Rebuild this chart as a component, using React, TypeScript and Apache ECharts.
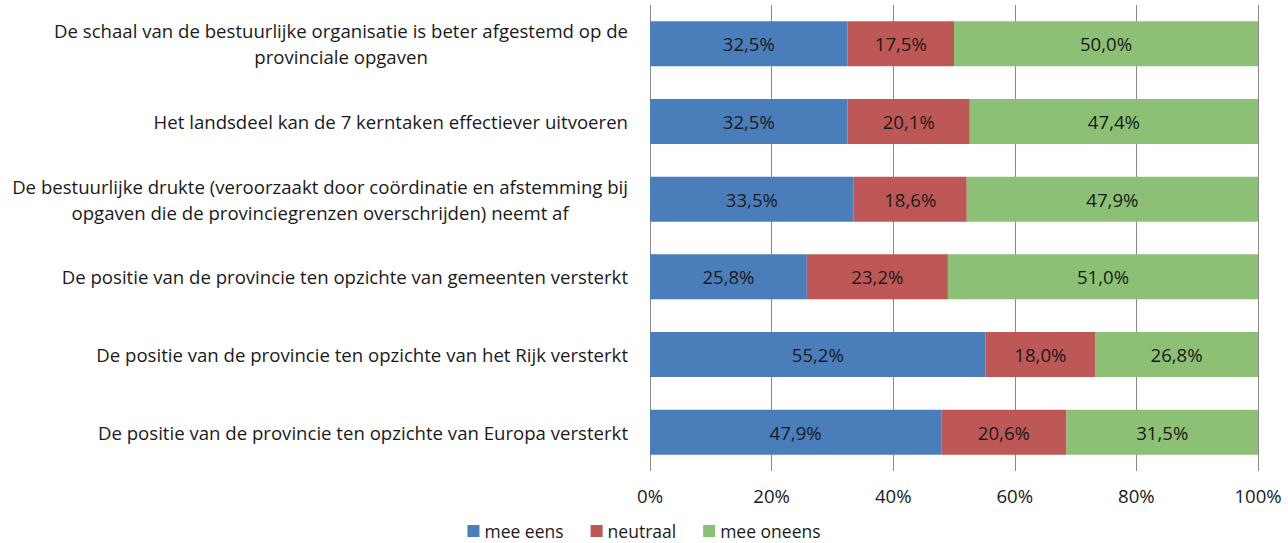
import React, { useEffect, useRef } from "react";
import * as echarts from "echarts";

const categories = [
  "De schaal van de bestuurlijke organisatie is beter afgestemd op de\nprovinciale opgaven",
  "Het landsdeel kan de 7 kerntaken effectiever uitvoeren",
  "De bestuurlijke drukte (veroorzaakt door coördinatie en afstemming bij\nopgaven die de provinciegrenzen overschrijden) neemt af",
  "De positie van de provincie ten opzichte van gemeenten versterkt",
  "De positie van de provincie ten opzichte van het Rijk versterkt",
  "De positie van de provincie ten opzichte van Europa versterkt",
];
const meeEens = [32.5, 32.5, 33.5, 25.8, 55.2, 47.9];
const neutraal = [17.5, 20.1, 18.6, 23.2, 18.0, 20.6];
const meeOneens = [50.0, 47.4, 47.9, 51.0, 26.8, 31.5];
const seriesNames = ["mee eens", "neutraal", "mee oneens"];
const colors = ["#4A7EBB", "#BE5856", "#8CC074"];

const FONT = "'Open Sans'";
const FS = 18.6;
const LEGEND_FS = 17.5;

export default function App() {
  const ref = useRef<HTMLDivElement>(null);
  useEffect(() => {
    if (!ref.current) return;
    const chart = echarts.init(ref.current, null, { renderer: "svg" });
    const fmt = (v: number) => v.toFixed(1).replace(".", ",") + "%";
    const mk = (name: string, data: number[], color: string) => ({
      name,
      type: "bar",
      stack: "total",
      barWidth: 45,
      data,
      itemStyle: { color },
      label: {
        show: true,
        position: "inside",
        color: "#1a1a1a",
        fontFamily: FONT,
        fontSize: FS,
        formatter: (p: any) => fmt(p.value),
      },
    });
    chart.setOption({
      animation: false,
      backgroundColor: "#ffffff",
      grid: { left: 650, right: 30, top: 5, bottom: 72, containLabel: false },
      legend: {
        data: seriesNames,
        left: "center",
        top: 522,
        padding: 0,
        itemWidth: 12,
        itemHeight: 12,
        itemGap: 27,
        icon: "rect",
        textStyle: {
          fontFamily: FONT,
          fontSize: LEGEND_FS,
          color: "#1a1a1a",
          lineHeight: 18,
        },
      },
      xAxis: {
        type: "value",
        min: 0,
        max: 100,
        interval: 20,
        axisLine: { show: false },
        axisTick: { show: false },
        splitLine: { show: true, lineStyle: { color: "#8a8a8a", width: 1 } },
        axisLabel: {
          formatter: "{value}%",
          fontFamily: FONT,
          fontSize: FS,
          color: "#1a1a1a",
          margin: 15,
        },
      },
      yAxis: {
        type: "category",
        inverse: true,
        data: categories,
        axisLine: { show: false },
        axisTick: { show: false },
        axisLabel: {
          margin: 22,
          fontFamily: FONT,
          fontSize: FS,
          color: "#1a1a1a",
          formatter: (v: string) =>
            v
              .split("\n")
              .map((l) => "{c|" + l + "}")
              .join("\n"),
          rich: {
            c: {
              align: "center",
              fontFamily: FONT,
              fontSize: FS,
              color: "#1a1a1a",
              lineHeight: 26,
            },
          },
        },
      },
      series: [
        mk(seriesNames[0], meeEens, colors[0]),
        mk(seriesNames[1], neutraal, colors[1]),
        mk(seriesNames[2], meeOneens, colors[2]),
      ],
    });
    return () => chart.dispose();
  }, []);
  return (
    <div
      ref={ref}
      style={{ position: "fixed", left: 0, top: 0, width: 1288, height: 543 }}
    />
  );
}
